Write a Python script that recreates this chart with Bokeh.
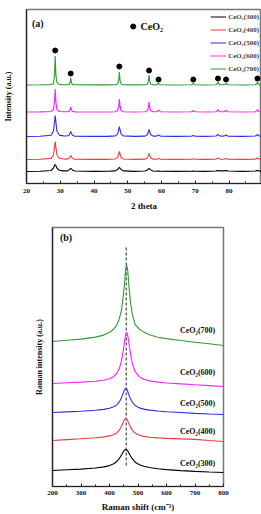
from bokeh.plotting import figure
from bokeh.models import Range1d, Legend, LegendItem, Label, SingleIntervalTicker, FixedTicker
from bokeh.embed import file_html
from bokeh.resources import INLINE

# ---------------- data ----------------
samples = ["CeO₂(300)", "CeO₂(400)", "CeO₂(500)", "CeO₂(600)", "CeO₂(700)"]
colors = ["#000000", "#ee3b3b", "#2b2bee", "#ff1eff", "#2f9a2f"]

# XRD (a): 2 theta grid and intensities above each curve's own baseline (a.u.)
two_theta = [20, 24, 27.3, 28.0, 28.3, 28.5, 28.7, 29.0, 29.7, 31,
             31.9, 32.6, 32.9, 33.1, 33.3, 33.6, 34.3, 40, 44,
             46.3, 47.0, 47.3, 47.5, 47.7, 48.0, 48.7, 52,
             55.1, 55.8, 56.1, 56.3, 56.5, 56.8, 57.5,
             58.5, 58.85, 59.1, 59.35, 59.7, 64,
             68.8, 69.15, 69.4, 69.65, 70.0, 73,
             76.1, 76.45, 76.7, 76.95, 77.3,
             78.5, 78.85, 79.1, 79.35, 79.7, 84,
             87.8, 88.15, 88.4, 88.65, 89.0, 90]
xrd_300 = [0, 0.2, 1.05, 3.5, 6.0, 7, 6.0, 3.5, 1.2, 0.6,
           0.6, 1.5, 2.6, 3, 2.6, 1.5, 0.5, 0.1, 0.2,
           0.6, 2.0, 3.4, 4, 3.4, 2.0, 0.6, 0.1,
           0.45, 1.5, 2.6, 3, 2.6, 1.5, 0.5,
           0.25, 0.4, 0.5, 0.4, 0.25, 0.1,
           0.25, 0.4, 0.5, 0.4, 0.25, 0.1,
           0.5, 0.85, 1, 0.85, 0.6,
           0.6, 0.85, 1, 0.85, 0.5, 0.1,
           0.5, 0.85, 1, 0.85, 0.5, 0.2]
xrd_400 = [0, 0.2, 1.1, 4.7, 12.4, 18, 12.4, 4.7, 1.2, 0.5,
           0.4, 1.0, 2.8, 4, 2.8, 1.0, 0.3, 0.1, 0.1,
           0.5, 2.1, 5.5, 8, 5.5, 2.1, 0.5, 0.1,
           0.36, 1.6, 4.1, 6, 4.1, 1.6, 0.4,
           0.25, 0.66, 1, 0.66, 0.25, 0.1,
           0.2, 0.5, 0.8, 0.5, 0.2, 0.1,
           0.4, 1.0, 1.5, 1.0, 0.4,
           0.25, 0.66, 1, 0.66, 0.25, 0.1,
           0.4, 1.0, 1.5, 1.0, 0.4, 0.1]
xrd_500 = [0, 0.2, 1.3, 5.5, 14.5, 21, 14.5, 5.5, 1.4, 0.6,
           0.5, 1.3, 3.5, 5, 3.5, 1.3, 0.3, 0.1, 0.1,
           0.6, 2.6, 6.9, 10, 6.9, 2.6, 0.6, 0.1,
           0.4, 1.8, 4.8, 7, 4.8, 1.8, 0.4,
           0.4, 1.0, 1.5, 1.0, 0.4, 0.1,
           0.25, 0.66, 1, 0.66, 0.25, 0.1,
           0.5, 1.3, 2, 1.3, 0.5,
           0.4, 1.0, 1.5, 1.0, 0.4, 0.1,
           0.5, 1.3, 2, 1.3, 0.5, 0.2]
xrd_600 = [0, 0.1, 0.5, 2.6, 10.3, 23, 10.3, 2.6, 0.5, 0.2,
           0.2, 0.6, 2.2, 5, 2.2, 0.6, 0.1, 0.05, 0.05,
           0.3, 1.5, 5.8, 13, 5.8, 1.5, 0.3, 0.05,
           0.2, 1.2, 4.5, 10, 4.5, 1.2, 0.2,
           0.25, 0.9, 2, 0.9, 0.25, 0.05,
           0.2, 0.7, 1.5, 0.7, 0.2, 0.05,
           0.3, 1.1, 2.5, 1.1, 0.3,
           0.25, 0.9, 2, 0.9, 0.25, 0.05,
           0.3, 1.1, 2.5, 1.1, 0.3, 0.05]
xrd_700 = [0, 0.2, 0.4, 1.2, 10, 29, 10, 2.5, 0.6, 0.3,
           0.3, 0.6, 2.5, 7, 2.5, 0.6, 0.2, 0.1, 0.1,
           0.3, 1.1, 4.7, 13, 4.7, 1.1, 0.3, 0.1,
           0.2, 0.8, 3.6, 10, 3.6, 0.8, 0.2,
           0.1, 0.8, 2, 0.8, 0.2, 0,
           0.2, 0.8, 2, 0.8, 0.2, 0,
           0.3, 1.2, 3, 1.2, 0.3,
           0.2, 0.8, 2, 0.8, 0.2, 0,
           0.3, 1.2, 3, 1.2, 0.3, 0]
xrd_series = [xrd_300, xrd_400, xrd_500, xrd_600, xrd_700]
xrd_baselines = [12, 24, 47, 71.5, 98.5]

# CeO2 reflections marked with dots above the 700 curve
ceo2_peaks = [28.5, 33.1, 47.5, 56.3, 59.1, 69.4, 76.7, 79.1, 88.4]
ceo2_marker_level = [133, 110, 117, 113, 104, 104, 105, 104, 105]

# Raman (b): shift grid and stacked intensities (a.u.)
raman_shift = [200, 250, 300, 350, 380, 400, 415, 425, 435, 442, 448, 452, 456, 460,
               464, 468, 474, 480, 490, 505, 520, 540, 570, 600, 650, 700, 750, 800]
raman_300 = [16, 16.7, 17.4, 18.5, 19.6, 20.9, 22.8, 24.8, 28.2, 31.5, 34.6, 36.2, 37, 36.7,
             35.5, 33.5, 30.4, 27.8, 24.3, 21.7, 20.2, 19, 17.8, 16.9, 15.9, 15.1, 14.5, 14]
raman_400 = [46, 46.9, 47.7, 48.7, 49.6, 50.6, 52, 53.6, 56.7, 60.3, 64.3, 66.7, 68, 67.5,
             65.6, 62.9, 59.1, 56.2, 53.4, 51.2, 50.1, 49.2, 48.6, 48.1, 47.6, 47.1, 46, 45]
raman_500 = [74, 74.6, 75.2, 76.2, 77.1, 78.2, 79.7, 81.4, 84.8, 88.8, 93.4, 96.3, 97.9, 97.4,
             95, 91.8, 87.4, 84.2, 81, 78.6, 77.4, 76.4, 75.5, 74.8, 74, 73.1, 72.5, 72]
raman_600 = [103, 103.7, 104.4, 105.2, 106.2, 107.8, 110.1, 113, 118.4, 125.5, 135.3, 143.5, 150.8, 154,
             150.8, 143.4, 132.4, 122.8, 114.8, 109.6, 107.3, 105.6, 104.4, 103.5, 102.6, 101.7, 100.9, 100]
raman_700 = [145, 146.2, 147.4, 149.4, 151.4, 153.9, 157.5, 161.2, 168.3, 176.3, 189.7, 200.9, 215.9, 222,
             215.9, 200.7, 183.4, 172.6, 161.9, 157.3, 154.4, 151.8, 149.3, 147.9, 146, 144.3, 142.7, 141]
raman_series = [raman_300, raman_400, raman_500, raman_600, raman_700]
f2g_position = 459

FONT = "Liberation Serif"


def style_axes(p):
    for ax in (p.xaxis[0], p.yaxis[0]):
        ax.axis_line_color = "#222222"
        ax.axis_line_width = 1.2
        ax.major_tick_in = 3
        ax.major_tick_out = 0
        ax.minor_tick_in = 2
        ax.minor_tick_out = 0
        ax.major_tick_line_color = "#222222"
        ax.minor_tick_line_color = "#222222"
        ax.major_label_text_font = FONT
        ax.major_label_text_font_style = "bold"
        ax.axis_label_text_font = FONT
        ax.axis_label_text_font_style = "bold"
        ax.axis_label_text_color = "#111111"
        ax.major_label_text_color = "#111111"
    p.yaxis.ticker = FixedTicker(ticks=[])
    p.yaxis.major_label_standoff = 0
    p.xgrid.visible = False
    p.ygrid.visible = False
    p.outline_line_color = "#777777"
    p.outline_line_width = 1.5
    p.background_fill_color = "white"
    p.border_fill_color = "white"


# ---------------- panel (a) ----------------
p1 = figure(width=261, height=215, output_backend="svg", toolbar_location=None,
            x_range=Range1d(20, 89.6), y_range=Range1d(0, 174),
            min_border_left=26, min_border_right=0, min_border_top=9, min_border_bottom=32)
style_axes(p1)
p1.xaxis.ticker = SingleIntervalTicker(interval=10, num_minor_ticks=2)
p1.xaxis.major_label_text_font_size = "7px"
p1.xaxis.major_label_standoff = 5
p1.xaxis.axis_label = "2 theta"
p1.xaxis.axis_label_text_font_size = "9px"
p1.xaxis.axis_label_standoff = 5
p1.yaxis.axis_label = "Intensity (a.u.)"
p1.yaxis.axis_label_text_font_size = "8px"
p1.yaxis.axis_label_standoff = 14

items = []
for name, col, ser, base in zip(samples, colors, xrd_series, xrd_baselines):
    ys = [base + v for v in ser]
    r = p1.line(two_theta, ys, line_color=col, line_width=1.1)
    items.append(LegendItem(label=name, renderers=[r]))

p1.scatter(ceo2_peaks, ceo2_marker_level, marker="circle", size=5, color="black")
p1.scatter([51.6], [157], marker="circle", size=5, color="black")
p1.add_layout(Label(x=53.8, y=157, text="CeO₂", text_font=FONT, text_font_style="bold",
                    text_font_size="10px", text_baseline="middle", text_color="#111111"))
p1.add_layout(Label(x=21.6, y=160, text="(a)", text_font=FONT, text_font_style="bold",
                    text_font_size="10px", text_baseline="middle", text_color="#111111"))

legend = Legend(items=items, location="top_right", border_line_color=None,
                background_fill_alpha=0, label_text_font=FONT, label_text_font_style="bold",
                label_text_font_size="7px", glyph_width=16, glyph_height=11, label_height=11,
                spacing=2, padding=1, margin=2, label_standoff=2)
p1.add_layout(legend)

# ---------------- panel (b) ----------------
p2 = figure(width=261, height=299, output_backend="svg", toolbar_location=None,
            x_range=Range1d(200, 800), y_range=Range1d(0, 259),
            min_border_left=52, min_border_right=38, min_border_top=12, min_border_bottom=28)
style_axes(p2)
p2.xaxis.ticker = SingleIntervalTicker(interval=100, num_minor_ticks=2)
p2.xaxis.major_label_text_font_size = "7px"
p2.xaxis.major_label_standoff = 4
p2.xaxis.axis_label = "Raman shift (cm⁻¹)"
p2.xaxis.axis_label_text_font_size = "9px"
p2.xaxis.axis_label_standoff = 4
p2.yaxis.axis_label = "Raman intensity (a.u.)"
p2.yaxis.axis_label_text_font_size = "8px"
p2.yaxis.axis_label_standoff = 9

p2.segment(x0=[f2g_position], y0=[21], x1=[f2g_position], y1=[241],
           line_color="#666666", line_width=1.5, line_dash="3 2")
label_levels = [23, 55, 83, 114, 156]
for name, col, ser, lv in zip(samples, colors, raman_series, label_levels):
    p2.line(raman_shift, ser, line_color=col, line_width=1.1)
    p2.add_layout(Label(x=709, y=lv, text=name, text_font=FONT, text_font_style="bold",
                        text_font_size="8px", text_align="center", text_baseline="middle",
                        text_color="#111111"))
p2.add_layout(Label(x=226, y=249, text="(b)", text_font=FONT, text_font_style="bold",
                    text_font_size="10px", text_baseline="middle", text_color="#111111"))

open("out.html", "w").write(file_html([p1, p2], INLINE))
